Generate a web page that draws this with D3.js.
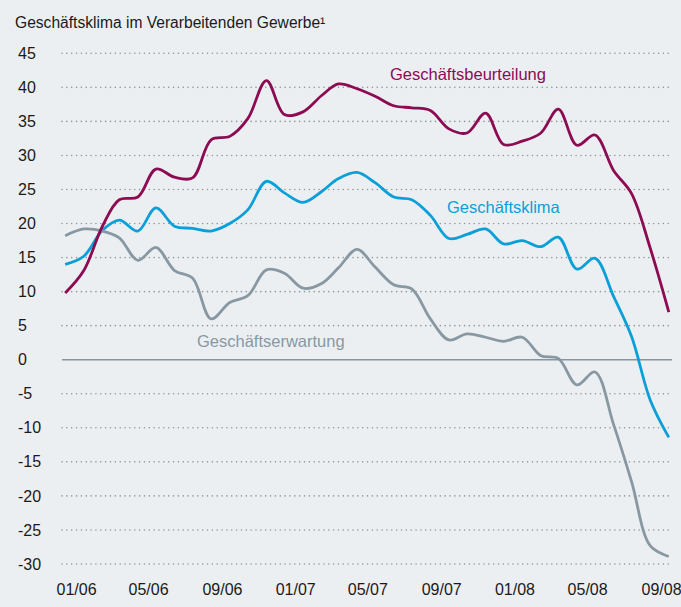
<!DOCTYPE html>
<html>
<head>
<meta charset="utf-8">
<script src="https://cdn.jsdelivr.net/npm/d3@7"></script>
<style>
  html, body { margin: 0; padding: 0; background: #eceff2; }
  svg { display: block; font-family: "Liberation Sans", Arial, Helvetica, sans-serif; }
  .tick text { fill: #1a1a1a; }
</style>
</head>
<body>
<svg id="chart" width="681" height="607"></svg>
<script>
"use strict";

// monthly values, Dec 2005 .. Sep 2008 (plotted mid-month)
var months = d3.timeMonth.range(new Date(2005, 11, 1), new Date(2008, 9, 1))
  .map(function (d) { return new Date(d.getFullYear(), d.getMonth(), 14); });

var beurteilung = [9.8, 13.1, 19.6, 23.5, 23.9, 28.0, 26.8, 26.7, 32.3, 32.8,
  35.4, 41.0, 36.0, 36.4, 38.8, 40.5, 39.8, 38.7, 37.3, 37.0,
  36.6, 33.9, 33.3, 36.2, 31.6, 32.1, 33.3, 36.8, 31.5, 33.0,
  27.8, 24.4, 16.4, 7.0];

var klima = [14.0, 15.2, 19.0, 20.5, 18.9, 22.3, 19.6, 19.3, 18.9, 20.0,
  22.0, 26.2, 24.5, 23.1, 24.7, 26.6, 27.5, 26.0, 23.9, 23.5,
  21.2, 17.8, 18.4, 19.2, 17.0, 17.5, 16.6, 18.0, 13.3, 14.9,
  9.3, 3.4, -5.9, -11.4];

var erwartung = [18.2, 19.2, 18.9, 17.9, 14.6, 16.5, 13.1, 12.0, 6.0, 8.4,
  9.4, 13.2, 12.7, 10.5, 11.2, 13.5, 16.2, 13.6, 11.0, 10.4,
  6.0, 2.9, 3.8, 3.3, 2.7, 3.3, 0.6, 0.2, -3.7, -1.8,
  -9.5, -17.9, -27.3, -28.9];

var yTicks = [-30, -25, -20, -15, -10, -5, 0, 5, 10, 15, 20, 25, 30, 35, 40, 45];
var xTicks = ['2006-01', '2006-05', '2006-09', '2007-01', '2007-05', '2007-09',
  '2008-01', '2008-05', '2008-09'];

var series = [
  { name: 'Geschäftsklima', values: klima, color: '#0a9fd8', lx: 447, ly: 213 },
  { name: 'Geschäftserwartung', values: erwartung, color: '#8898a3', lx: 197, ly: 347 },
  { name: 'Geschäftsbeurteilung', values: beurteilung, color: '#8c0b52', lx: 390, ly: 80 }
];

var parseMonth = d3.timeParse('%Y-%m');

function draw() {
  var svg = d3.select('#chart');

  var X = d3.scaleTime()
    .domain([parseMonth('2006-01'), parseMonth('2008-09')])
    .range([76, 661]);
  var Y = d3.scaleLinear().domain([-30, 45]).range([564, 53.3]);

  svg.append('text')
    .attr('x', 15).attr('y', 28)
    .attr('font-size', 15.6)
    .attr('fill', '#1a1a1a')
    .text('Geschäftsklima im Verarbeitenden Gewerbe¹');

  // dotted grid
  svg.append('g').selectAll('line')
    .data(yTicks.filter(function (d) { return d !== 0; }))
    .join('line')
    .attr('x1', 62).attr('x2', 671)
    .attr('y1', function (d) { return Y(d); })
    .attr('y2', function (d) { return Y(d); })
    .attr('stroke', '#8e979e')
    .attr('stroke-width', 1.6)
    .attr('stroke-linecap', 'round')
    .attr('stroke-dasharray', '0 4.85');

  svg.append('line')
    .attr('x1', 62).attr('x2', 672)
    .attr('y1', Y(0)).attr('y2', Y(0))
    .attr('stroke', '#8795a0')
    .attr('stroke-width', 1.6);

  var yaxis = d3.axisRight(Y)
    .tickValues(yTicks)
    .tickSize(0)
    .tickPadding(0)
    .tickFormat(function (d) { return String(d); });
  svg.append('g')
    .attr('class', 'axis y')
    .attr('transform', 'translate(18,0)')
    .call(yaxis)
    .call(function (g) { g.select('.domain').remove(); })
    .selectAll('text')
    .attr('font-size', 16)
    .attr('font-family', null);

  var xaxis = d3.axisBottom(X)
    .tickValues(xTicks.map(parseMonth))
    .tickSize(0)
    .tickPadding(0)
    .tickFormat(d3.timeFormat('%m/%y'));
  svg.append('g')
    .attr('class', 'axis x')
    .attr('transform', 'translate(0,584)')
    .call(xaxis)
    .call(function (g) { g.select('.domain').remove(); })
    .selectAll('text')
    .attr('font-size', 16)
    .attr('font-family', null);

  var valueline = d3.line()
    .x(function (d, i) { return X(months[i]); })
    .y(function (d) { return Y(d); })
    .curve(d3.curveCatmullRom.alpha(0.5));

  series.forEach(function (s) {
    svg.append('path')
      .datum(s.values)
      .attr('fill', 'none')
      .attr('stroke', s.color)
      .attr('stroke-width', 2.8)
      .attr('stroke-linejoin', 'round')
      .attr('d', valueline);
    svg.append('text')
      .attr('x', s.lx).attr('y', s.ly)
      .attr('font-size', 16.5)
      .attr('fill', s.color)
      .text(s.name);
  });
}

draw();
</script>
</body>
</html>
